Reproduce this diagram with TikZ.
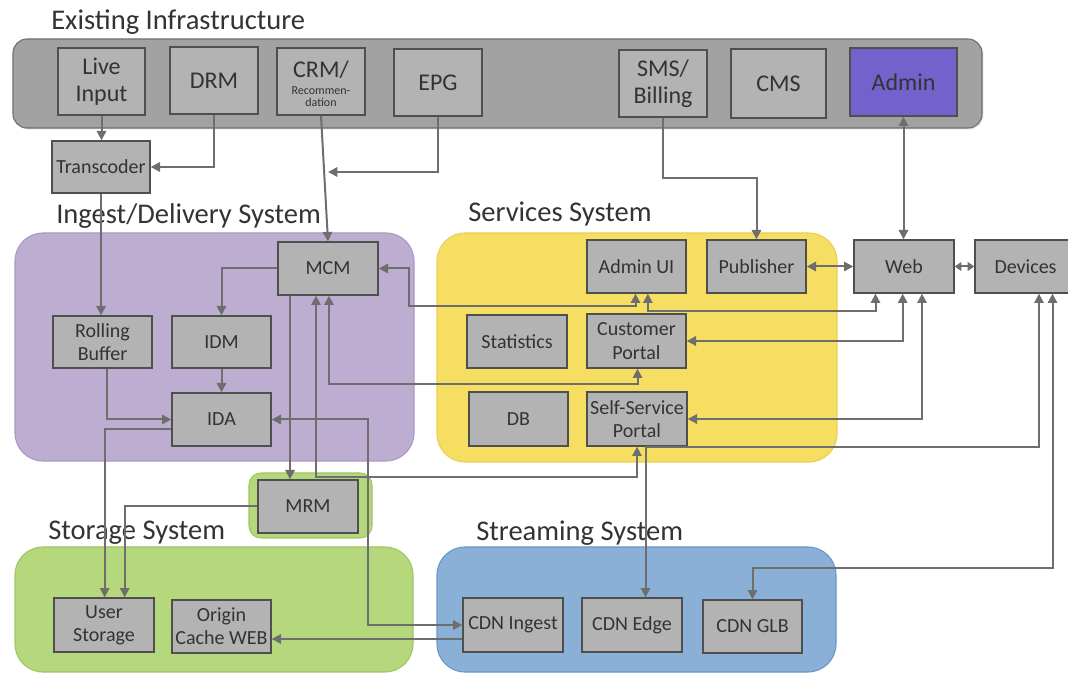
\documentclass[tikz,border=0pt]{standalone}
\usepackage{fontspec}
\setmainfont{Carlito}
\usetikzlibrary{arrows.meta,shadows,calc}
\definecolor{txt}{HTML}{333333}
\definecolor{boxfill}{HTML}{B3B3B3}
\definecolor{boxline}{HTML}{4F4F4F}
\definecolor{infrafill}{HTML}{A2A2A2}
\definecolor{infraline}{HTML}{6E6E6E}
\definecolor{adminfill}{HTML}{7462CC}
\definecolor{ingestfill}{HTML}{BDAED1}
\definecolor{ingestline}{HTML}{A898C4}
\definecolor{servfill}{HTML}{F6DE63}
\definecolor{servline}{HTML}{E9CF55}
\definecolor{greenfill}{HTML}{B4D87B}
\definecolor{greenline}{HTML}{9CC760}
\definecolor{bluefill}{HTML}{8BB0D7}
\definecolor{blueline}{HTML}{6A97C8}
\definecolor{linecol}{HTML}{6E6E6E}
\newcommand\smallfont{\fontsize{9}{9}\selectfont}
\tikzset{
  box/.style={draw=boxline, fill=boxfill, line width=1pt, inner sep=0pt, align=center,
    text=txt, font=\fontsize{15}{17.5}\selectfont,
    drop shadow={shadow xshift=1pt, shadow yshift=-1pt, opacity=0.3}},
  bigbox/.style={font=\fontsize{18}{20.5}\selectfont},
  group/.style={inner sep=0pt, rounded corners=21pt, line width=0.8pt, text=txt, align=center},
  grouptitle/.style={anchor=base west, text=txt, font=\fontsize{21.4}{23}\selectfont, inner sep=0pt},
  tip/.style={-{Triangle[length=7pt,width=7pt]}},
  conn/.style={draw=linecol, line width=1.5pt, tip},
  conn2/.style={draw=linecol, line width=1.5pt, {Triangle[length=7pt,width=7pt]}-{Triangle[length=7pt,width=7pt]}},
  conns/.style={draw=linecol, line width=1.5pt, {Triangle[length=5pt,width=6.5pt]}-{Triangle[length=5pt,width=6.5pt]}},
}
% \mybox[style]{name}{x1}{y1}{x2}{y2}{text}  (pixel corners)
\newcommand\mybox[7][box]{%
  \pgfmathsetmacro\bxw{(#5-#3)*0.75}%
  \pgfmathsetmacro\bxh{(#6-#4)*0.75}%
  \node[#1, minimum width=\bxw pt, minimum height=\bxh pt] (#2) at ({(#3+#5)/2},{(#4+#6)/2}) {#7};}
\begin{document}
\begin{tikzpicture}[x=0.75pt,y=-0.75pt]
\useasboundingbox (0,0) rectangle (1068,673);

% ---------- containers ----------
\mybox[group, draw=infraline, fill=infrafill, rounded corners=10.5pt,
  drop shadow={shadow xshift=1pt, shadow yshift=-1pt, opacity=0.25}]{infra}{13}{39}{982}{128}{}
\mybox[group, draw=ingestline, fill=ingestfill]{ingest}{15}{233}{414}{461}{}
\mybox[group, draw=servline, fill=servfill]{serv}{437}{233}{837}{462}{}
\mybox[group, draw=greenline, fill=greenfill, rounded corners=9pt]{mrmgrp}{249}{473}{372}{538}{}
\mybox[group, draw=greenline, fill=greenfill]{storage}{15}{547}{413}{672}{}
\mybox[group, draw=blueline, fill=bluefill]{stream}{437}{547}{836}{672}{}

% ---------- titles ----------
\node[grouptitle] (tinfra) at (51,30) {Existing Infrastructure};
\node[grouptitle] (tingest) at (56,224) {Ingest/Delivery System};
\node[grouptitle] (tserv) at (468,222) {Services System};
\node[grouptitle] (tstor) at (48,540) {Storage System};
\node[grouptitle] (tstream) at (476,541) {Streaming System};

% ---------- existing infrastructure ----------
\mybox[box,bigbox]{live}{58}{48}{145}{115}{Live\\Input}
\mybox[box,bigbox]{drm}{170}{47}{258}{114}{DRM}
\mybox[box,bigbox]{crm}{277}{48}{365}{115}{\rule{0pt}{19pt}CRM/\\[-3pt]{\smallfont\begin{tabular}{@{}c@{}}Recommen-\\dation\end{tabular}}}
\mybox[box,bigbox]{epg}{394}{49}{482}{116}{EPG}
\mybox[box,bigbox]{sms}{619}{50}{707}{117}{SMS/\\Billing}
\mybox[box,bigbox]{cms}{731}{49}{826}{118}{CMS}
\mybox[box,bigbox,fill=adminfill]{admin}{850}{48}{957}{116}{Admin}
\mybox{transcoder}{52}{141}{150}{193}{Transcoder}

% ---------- ingest/delivery ----------
\mybox{mcm}{278}{242}{378}{295}{MCM}
\mybox{rolling}{53}{316}{152}{368}{Rolling\\Buffer}
\mybox{idm}{172}{316}{271}{368}{IDM}
\mybox{ida}{172}{393}{271}{446}{IDA}

% ---------- services ----------
\mybox{adminui}{587}{240}{686}{293}{Admin UI}
\mybox{publisher}{707}{240}{806}{293}{Publisher}
\mybox{web}{854}{240}{954}{293}{Web}
\mybox{devices}{975}{240}{1076}{293}{Devices}
\mybox{stats}{467}{315}{567}{368}{Statistics}
\mybox{custportal}{587}{314}{686}{368}{Customer\\Portal}
\mybox{db}{469}{392}{568}{446}{DB}
\mybox{selfportal}{587}{392}{687}{446}{Self-Service\\Portal}

% ---------- MRM / storage / streaming ----------
\mybox{mrm}{258}{480}{358}{533}{MRM}
\mybox{userstor}{54}{598}{154}{652}{User\\Storage}
\mybox{origin}{172}{600}{271}{653}{Origin\\Cache WEB}
\mybox{cdningest}{463}{598}{563}{652}{CDN Ingest}
\mybox{cdnedge}{582}{598}{682}{652}{CDN Edge}
\mybox{cdnglb}{703}{600}{802}{653}{CDN GLB}

% ---------- helper coordinates ----------
\coordinate (epgend) at (328,172);
\coordinate (y178) at (0,178);
\coordinate (y384) at (0,384);
\coordinate (c477) at (316,477);
\coordinate (c306) at (409,306);
\coordinate (c311) at (875.5,311);
\coordinate (c625) at (368,625);
\coordinate (c447) at (645.5,447);
\coordinate (c1039) at (1039,447);
\coordinate (c568) at (1052.5,568);

% ---------- connectors ----------
\draw[conn] (live.south) -- (live.south |- transcoder.north);
\draw[conn] (drm.south) |- (transcoder.east);
\draw[conn] (epg.south) |- (epgend);
\draw[conn] (crm.south) -- (mcm.north);
\draw[conn] (transcoder.south) -- (transcoder.south |- rolling.north);
\draw[conn] (mcm.west) -| (idm.north);
\draw[conn] (idm.south) -- (ida.north);
\draw[conn] ([xshift=3pt]rolling.south) |- (ida.west);
\draw[conn] ([yshift=-7.5pt]ida.west) -| ([xshift=0.5pt]userstor.north);
\draw[conn] (mrm.west) -| ([xshift=15.5pt]userstor.north);
\draw[conn] ([xshift=-28.5pt]mcm.south) -- ([xshift=-28.5pt]mcm.south |- mrm.north);
\draw[conn2] (mcm.south -| c477) -- (c477) -| (selfportal.south);
\draw[conn2] ([xshift=0.75pt]mcm.south) -- ([xshift=0.75pt]mcm.south |- y384) -| ([xshift=0.75pt]custportal.south);
\draw[conn2] (mcm.east) -| (c306) -| ([xshift=-0.75pt]adminui.south);
\draw[conn2] ([xshift=8.5pt]adminui.south) |- (c311) -- (c311 |- web.south);
\draw[conn2] (custportal.east) -| ([xshift=-1pt]web.south);
\draw[conn2] (selfportal.east) -| ([xshift=13.5pt]web.south);
\draw[conn2] (publisher.east) -- (web.west);
\draw[conns] (web.east) -- (devices.west);
\draw[conn2] (admin.south) -- (admin.south |- web.north);
\draw[conn] (sms.south) -- (sms.south |- y178) -| (publisher.north);
\draw[conn2] (ida.east) -| (c625) -- (cdningest.west);
\draw[conn] ([yshift=-10.5pt]cdningest.west) -- ([yshift=-10.5pt]cdningest.west -| origin.east);
\draw[conn2] (devices.south -| c1039) -- (c1039) -- (c447) -- (c447 |- cdnedge.north);
\draw[conn2] (c568 |- devices.south) -- (c568) -| (cdnglb.north);
\end{tikzpicture}
\end{document}
